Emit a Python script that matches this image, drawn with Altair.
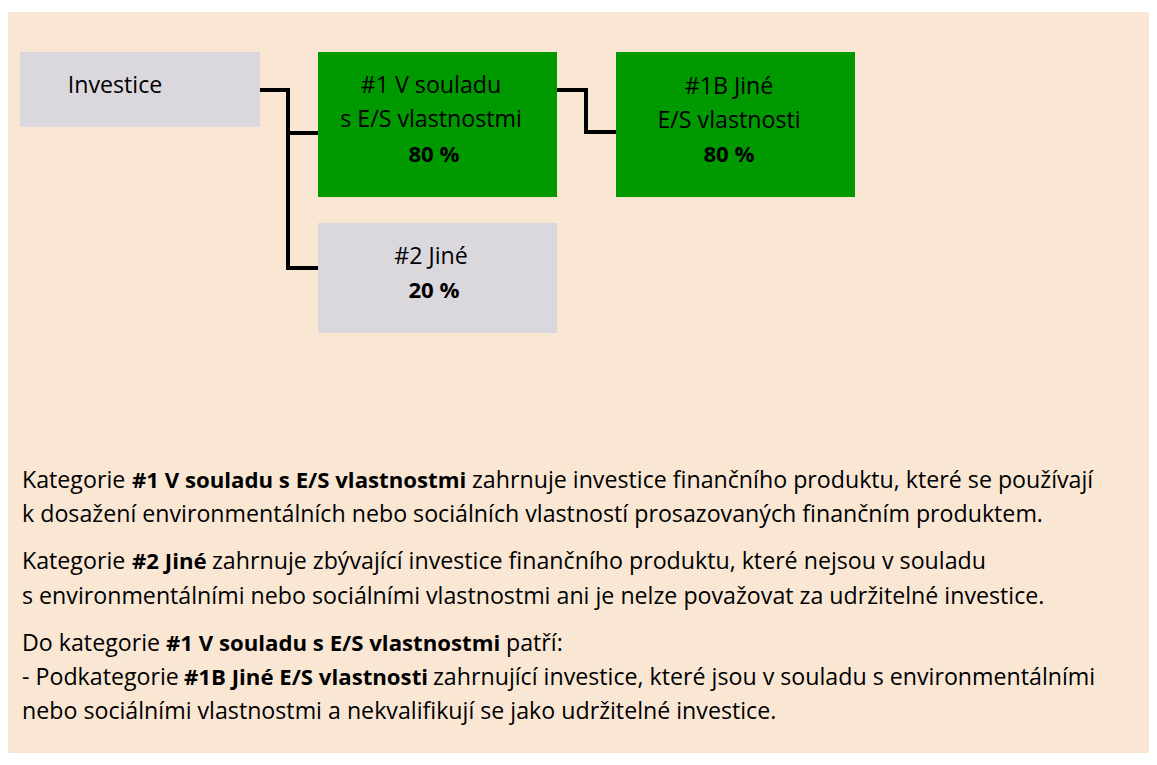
import altair as alt
import pandas as pd

# ---- layout / canvas (image pixel coordinates) ----
W, H = 1141, 745
X0, Y0 = 8, 8

BG = "#F9E7D4"
GRAY = "#DBD8DD"
GREEN = "#009900"
FONT = "Open Sans"
FS = 23.2      # regular text size
FSB = 22.2     # bold text size

# background panel
bg_x = [8, 1157]
bg_y = [12, 764]

# boxes
box_names = ["Investice", "#1 V souladu s E/S vlastnostmi", "#2 Jiné", "#1B Jiné E/S vlastnosti"]
box_x0 = [20, 318, 318, 616]
box_x1 = [260, 557, 557, 855]
box_y0 = [52, 52, 223, 52]
box_y1 = [127, 197, 333, 197]
box_fill = [GRAY, GREEN, GRAY, GREEN]

# labels inside boxes
lab_text = ["Investice", "#1 V souladu", "s E/S vlastnostmi", "80 %",
            "#2 Jiné", "20 %", "#1B Jiné", "E/S vlastnosti", "80 %"]
lab_x = [115, 431, 431, 434, 431, 434, 729, 729, 729]
lab_y = [86, 86, 120, 155, 257, 291, 87, 121, 155]
lab_bold = [False, False, False, True, False, True, False, False, True]

# connectors (polyline vertices)
con_id = ["a", "a", "a", "a", "b", "b", "c", "c", "c", "c"]
con_ord = [0, 1, 2, 3, 0, 1, 0, 1, 2, 3]
con_x = [260, 288, 288, 318, 288, 318, 557, 586, 586, 616]
con_y = [90, 90, 268, 268, 133, 133, 90, 90, 132, 132]

# explanatory paragraph segments
seg_text = [
    "Kategorie", "#1 V souladu s E/S vlastnostmi",
    "zahrnuje investice finančního produktu, které se používají",
    "k dosažení environmentálních nebo sociálních vlastností prosazovaných finančním produktem.",
    "Kategorie", "#2 Jiné",
    "zahrnuje zbývající investice finančního produktu, které nejsou v souladu",
    "s environmentálními nebo sociálními vlastnostmi ani je nelze považovat za udržitelné investice.",
    "Do kategorie", "#1 V souladu s E/S vlastnostmi", "patří:",
    "- Podkategorie", "#1B Jiné E/S vlastnosti",
    "zahrnující investice, které jsou v souladu s environmentálními",
    "nebo sociálními vlastnostmi a nekvalifikují se jako udržitelné investice.",
]
seg_x = [22, 132, 472, 22, 22, 132, 212, 22, 22, 166, 506, 22, 184, 433, 22]
seg_y = [488, 488, 488, 522, 569, 569, 569, 604, 651, 651, 651, 685, 685, 685, 719]
seg_bold = [False, True, False, False, False, True, False, False,
            False, True, False, False, True, False, False]

# ---- build tables ----
bg_df = pd.DataFrame({"x": [bg_x[0]], "x2": [bg_x[1]], "y": [bg_y[0]], "y2": [bg_y[1]]})
box_df = pd.DataFrame({"name": box_names, "x": box_x0, "x2": box_x1,
                       "y": box_y0, "y2": box_y1, "fill": box_fill})
lab_df = pd.DataFrame({"t": lab_text, "x": lab_x, "y": lab_y, "b": lab_bold})
con_df = pd.DataFrame({"id": con_id, "o": con_ord, "x": con_x, "y": con_y})
seg_df = pd.DataFrame({"t": seg_text, "x": seg_x, "y": seg_y, "b": seg_bold})

xs = alt.Scale(domain=[X0, X0 + W], nice=False, zero=False)
ys = alt.Scale(domain=[Y0, Y0 + H], nice=False, zero=False, reverse=True)


def X(f="x"):
    return alt.X(f"{f}:Q", scale=xs, axis=None)


def Y(f="y"):
    return alt.Y(f"{f}:Q", scale=ys, axis=None)


bg = alt.Chart(bg_df).mark_rect(color=BG, clip=True).encode(
    x=X(), x2="x2:Q", y=Y(), y2="y2:Q")

boxes = alt.Chart(box_df).mark_rect().encode(
    x=X(), x2="x2:Q", y=Y(), y2="y2:Q",
    color=alt.Color("fill:N", scale=None))

cons = alt.Chart(con_df).mark_line(color="black", strokeWidth=4,
                                   strokeJoin="miter", strokeCap="butt").encode(
    x=X(), y=Y(), detail="id:N", order="o:Q")

lab_norm = alt.Chart(lab_df[~lab_df.b]).mark_text(
    font=FONT, fontSize=FS, color="black", align="center", baseline="middle").encode(
    x=X(), y=Y(), text="t:N")
lab_bold_l = alt.Chart(lab_df[lab_df.b]).mark_text(
    font=FONT, fontSize=FSB, fontWeight="bold", color="black",
    align="center", baseline="middle").encode(
    x=X(), y=Y(), text="t:N")

seg_norm = alt.Chart(seg_df[~seg_df.b]).mark_text(
    font=FONT, fontSize=FS, color="black", align="left", baseline="alphabetic").encode(
    x=X(), y=Y(), text="t:N")
seg_bold_l = alt.Chart(seg_df[seg_df.b]).mark_text(
    font=FONT, fontSize=FSB, fontWeight="bold", color="black",
    align="left", baseline="alphabetic").encode(
    x=X(), y=Y(), text="t:N")

chart = alt.layer(bg, boxes, cons, lab_norm, lab_bold_l, seg_norm, seg_bold_l).properties(
    width=W, height=H, padding=0,
    autosize=alt.AutoSizeParams(type="none"),
).configure_view(stroke=None)

chart.save("out.html", embed_options={"renderer": "svg", "actions": False})
